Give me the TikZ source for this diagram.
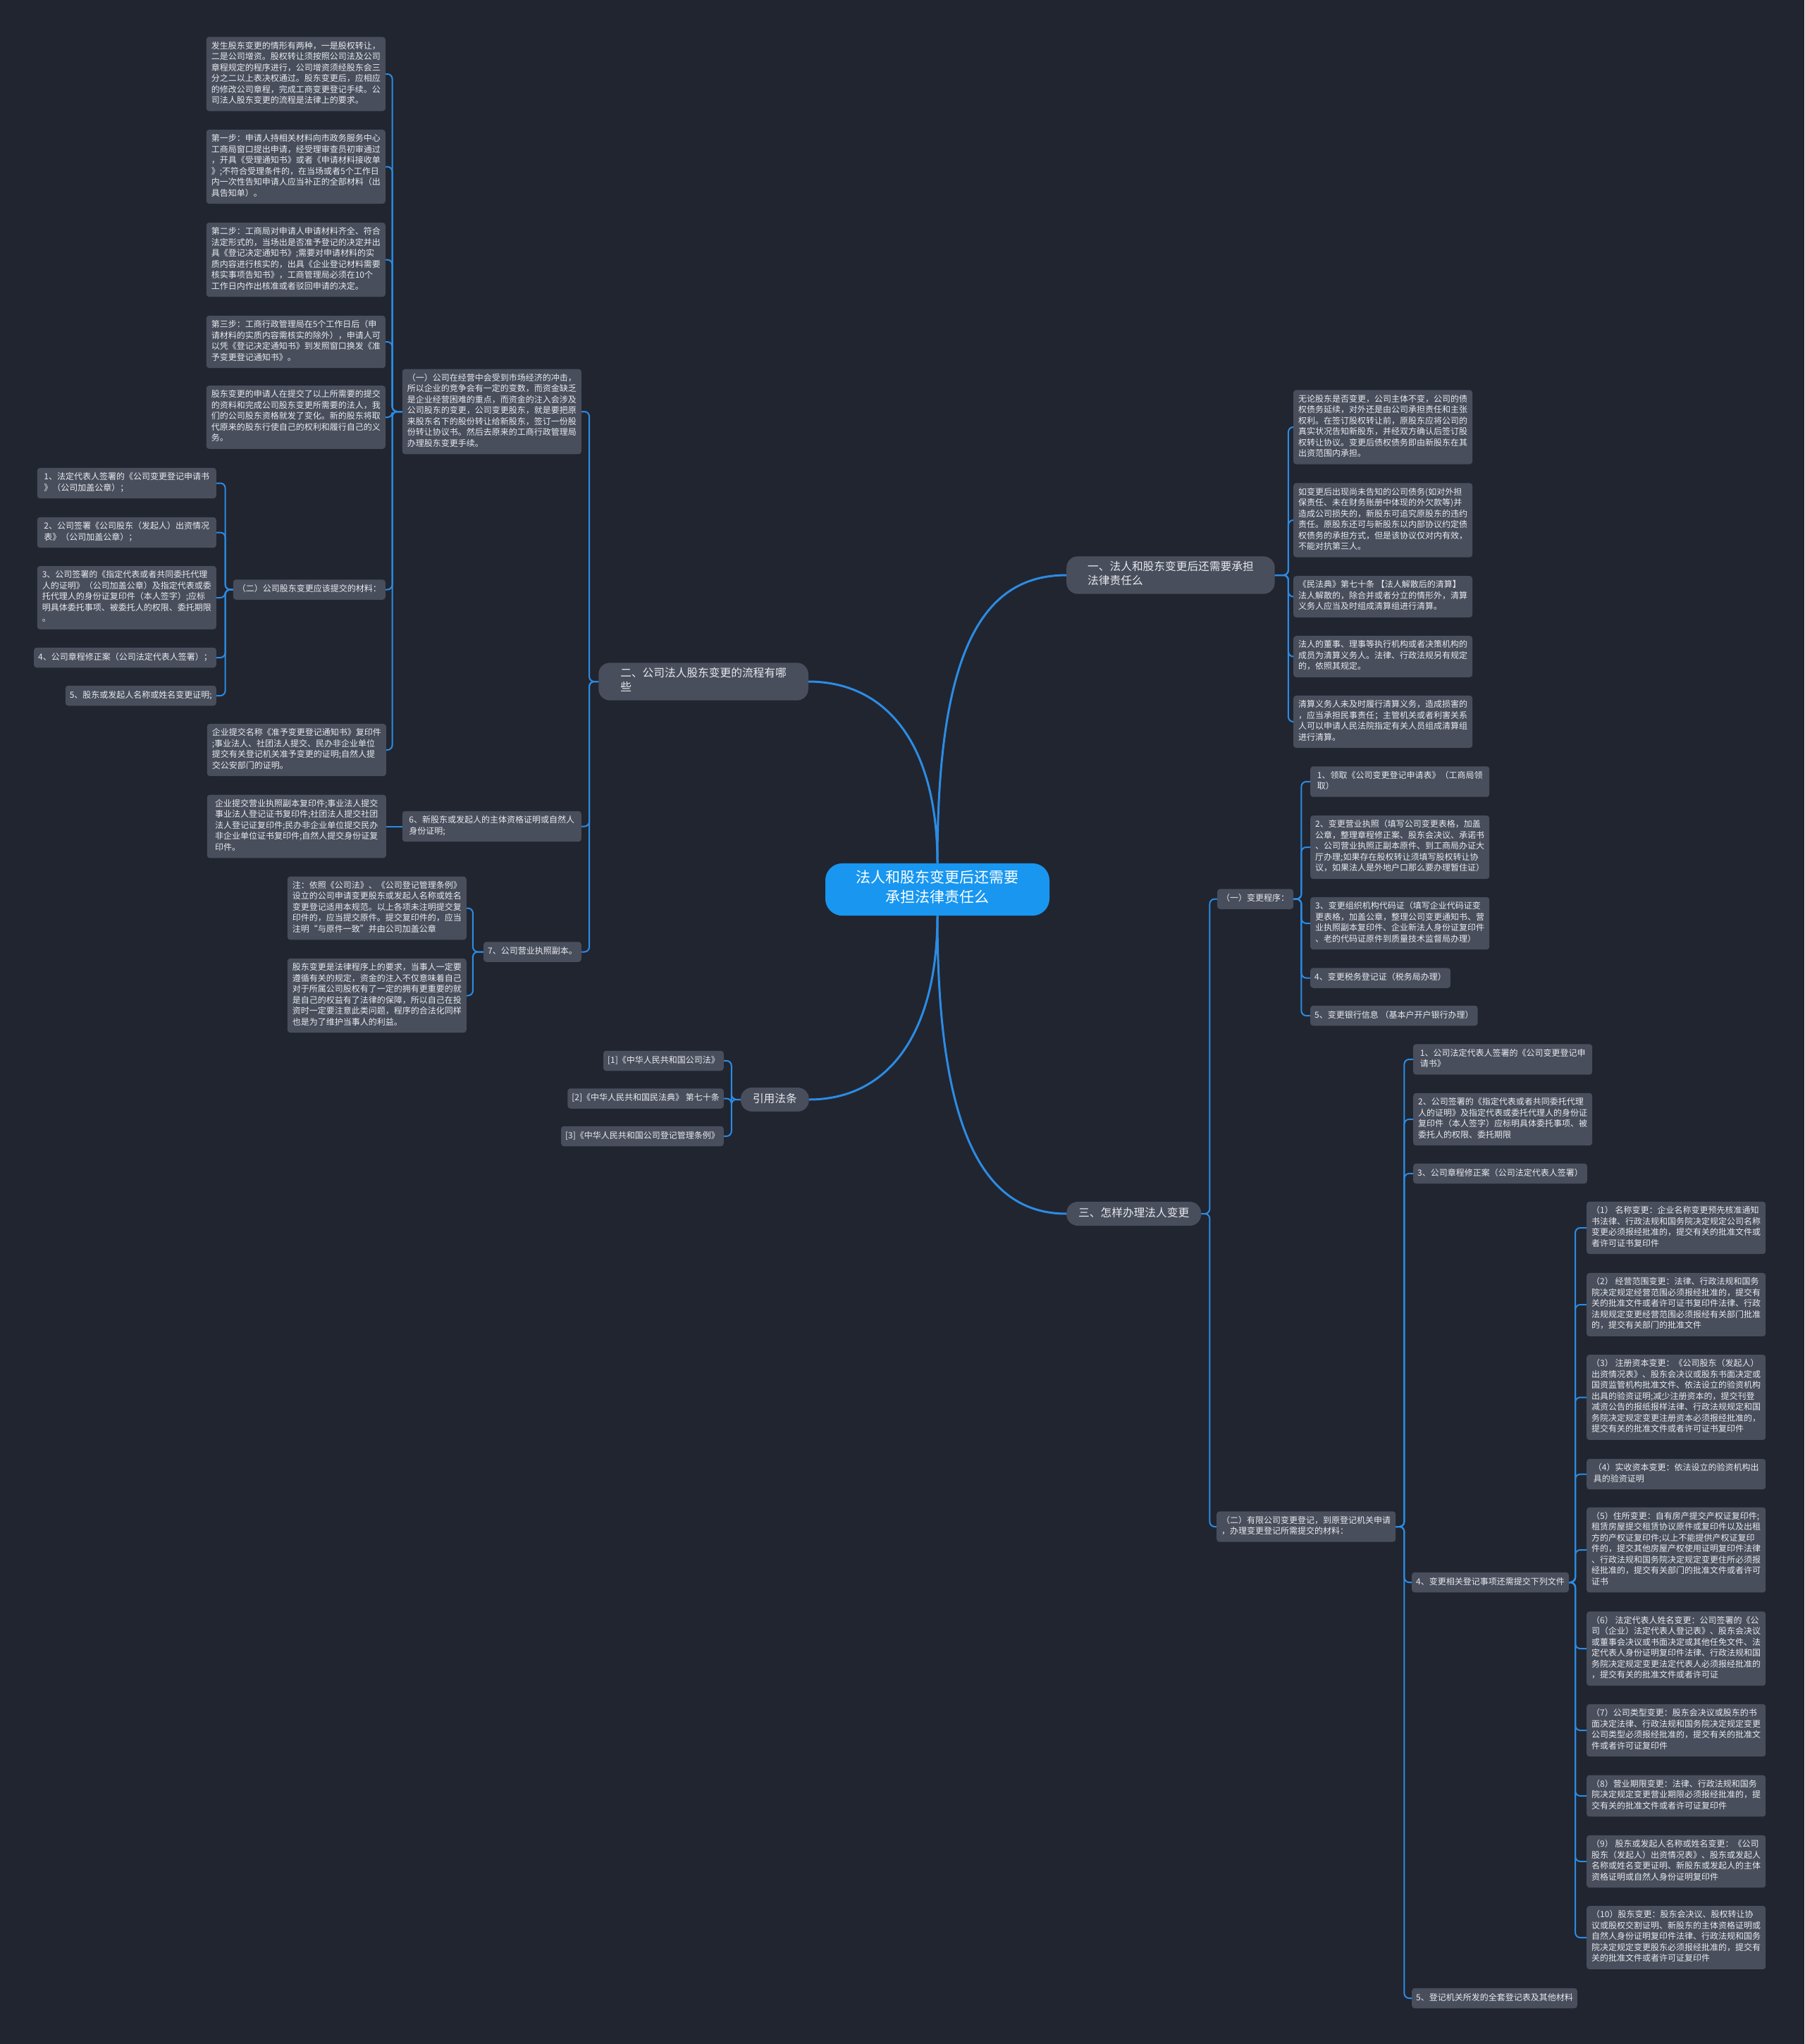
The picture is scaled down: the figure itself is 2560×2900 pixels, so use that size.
\documentclass[tikz,border=0pt]{standalone}
\usepackage{fontspec}
\setmainfont{Noto Sans CJK SC}
\usepackage{xcolor}
\usepackage{tikz}
\definecolor{bgc}{RGB}{33,37,48}
\definecolor{cardc}{RGB}{73,78,92}
\definecolor{linec}{RGB}{43,140,228}
\definecolor{rootc}{RGB}{24,150,240}
\definecolor{txtc}{RGB}{232,234,238}

\begin{document}
\begin{tikzpicture}[
    x=1pt, y=-1pt,
    every node/.style={text=txtc, align=left, execute at begin node=\strut, execute at end node=\strut},
    card/.style={fill=cardc, rounded corners=4pt, inner xsep=6pt, inner ysep=6.5pt, font=\fontsize{12}{15.5}\selectfont},
    wide/.style={card, minimum width=254pt},
    topic/.style={fill=cardc, rounded corners=16pt, inner xsep=17pt, inner ysep=7pt, font=\fontsize{15.7}{20}\selectfont},
    root/.style={fill=rootc, text=white, rounded corners=24pt, minimum width=318pt, inner ysep=10pt, align=center, font=\fontsize{21}{28}\selectfont},
    link/.style={draw=linec, line width=2pt, rounded corners=7pt},
    mainlink/.style={draw=linec, line width=3pt}
]
    \useasboundingbox (0,0) rectangle (2560,2900);
    \fill[bgc] (0,0) rectangle (2560,2900);

    % centre and main topics
    \node[root] (root) at (1330,1262) {法人和股东变更后还需要\\承担法律责任么};
    \node[topic, inner xsep=30pt, anchor=west] (liab) at (1513,816) {一、法人和股东变更后还需要承担\\法律责任么};
    \node[topic, inner xsep=31pt, anchor=east] (flow) at (1147,967) {二、公司法人股东变更的流程有哪\\些};
    \node[topic, anchor=west] (howto) at (1513,1722) {三、怎样办理法人变更};
    \node[topic, anchor=east] (cite) at (1148,1560) {引用法条};

    \draw[mainlink] (root.north) .. controls +(0,-300) and +(-120,0) .. (liab.west);
    \draw[mainlink] (root.north) .. controls +(0,-170) and +(110,0) .. (flow.east);
    \draw[mainlink] (root.south) .. controls +(0,300) and +(-120,0) .. (howto.west);
    \draw[mainlink] (root.south) .. controls +(0,170) and +(110,0) .. (cite.east);

    % 一
    \node[wide, anchor=west] (ra) at (1835,606) {无论股东是否变更，公司主体不变，公司的债\\权债务延续，对外还是由公司承担责任和主张\\权利。在签订股权转让前，原股东应将公司的\\真实状况告知新股东，并经双方确认后签订股\\权转让协议。变更后债权债务即由新股东在其\\出资范围内承担。};
    \node[wide, anchor=west] (rb) at (1835,738) {如变更后出现尚未告知的公司债务(如对外担\\保责任、未在财务账册中体现的外欠款等)并\\造成公司损失的，新股东可追究原股东的违约\\责任。原股东还可与新股东以内部协议约定债\\权债务的承担方式，但是该协议仅对内有效，\\不能对抗第三人。};
    \node[wide, anchor=west] (rc) at (1835,846.5) {《民法典》第七十条 【法人解散后的清算】\\法人解散的，除合并或者分立的情形外，清算\\义务人应当及时组成清算组进行清算。};
    \node[wide, anchor=west] (rd) at (1835,931.5) {法人的董事、理事等执行机构或者决策机构的\\成员为清算义务人。法律、行政法规另有规定\\的，依照其规定。};
    \node[wide, anchor=west] (re) at (1835,1024) {清算义务人未及时履行清算义务，造成损害的\\，应当承担民事责任；主管机关或者利害关系\\人可以申请人民法院指定有关人员组成清算组\\进行清算。};
    \foreach \c in {ra,rb,rc,rd,re}
        \draw[link] (liab.east) -- ++(19,0) |- (\c.west);

    % 三
    \node[card, anchor=west] (proc) at (1727,1275.5) {（一）变更程序：};
    \node[wide, anchor=west] (p1) at (1859,1109) {1、领取《公司变更登记申请表》（工商局领\\取）};
    \node[wide, anchor=west] (p2) at (1859,1202) {2、变更营业执照（填写公司变更表格，加盖\\公章，整理章程修正案、股东会决议、承诺书\\、公司营业执照正副本原件、到工商局办证大\\厅办理;如果存在股权转让须填写股权转让协\\议，如果法人是外地户口那么要办理暂住证）};
    \node[wide, anchor=west] (p3) at (1859,1310) {3、变更组织机构代码证（填写企业代码证变\\更表格，加盖公章，整理公司变更通知书、营\\业执照副本复印件、企业新法人身份证复印件\\、老的代码证原件到质量技术监督局办理）};
    \node[card, anchor=west] (p4) at (1859,1387.5) {4、变更税务登记证（税务局办理）};
    \node[card, anchor=west] (p5) at (1859,1441) {5、变更银行信息 （基本户开户银行办理）};

    \node[wide, anchor=west] (docs) at (1726,2166) {（二）有限公司变更登记，到原登记机关申请\\，办理变更登记所需提交的材料：};
    \node[wide, anchor=west] (q1) at (2005,1503) {1、公司法定代表人签署的《公司变更登记申\\请书》};
    \node[wide, anchor=west] (q2) at (2005,1588) {2、公司签署的《指定代表或者共同委托代理\\人的证明》及指定代表或委托代理人的身份证\\复印件（本人签字）应标明具体委托事项、被\\委托人的权限、委托期限};
    \node[card, anchor=west] (q3) at (2005,1665) {3、公司章程修正案（公司法定代表人签署）};
    \node[card, anchor=west] (q4) at (2003,2245) {4、变更相关登记事项还需提交下列文件};
    \node[card, anchor=west] (q5) at (2003,2835) {5、登记机关所发的全套登记表及其他材料};

    \node[wide, anchor=west] (s1) at (2251,1742) {（1） 名称变更：企业名称变更预先核准通知\\书法律、行政法规和国务院决定规定公司名称\\变更必须报经批准的，提交有关的批准文件或\\者许可证书复印件};
    \node[wide, anchor=west] (s2) at (2251,1851) {（2） 经营范围变更：法律、行政法规和国务\\院决定规定经营范围必须报经批准的，提交有\\关的批准文件或者许可证书复印件法律、行政\\法规规定变更经营范围必须报经有关部门批准\\的，提交有关部门的批准文件};
    \node[wide, anchor=west] (s3) at (2251,1982.5) {（3） 注册资本变更：《公司股东（发起人）\\出资情况表》、股东会决议或股东书面决定或\\国资监管机构批准文件、依法设立的验资机构\\出具的验资证明;减少注册资本的，提交刊登\\减资公告的报纸报样法律、行政法规规定和国\\务院决定规定变更注册资本必须报经批准的，\\提交有关的批准文件或者许可证书复印件};
    \node[wide, anchor=west] (s4) at (2251,2091.5) {（4）实收资本变更：依法设立的验资机构出\\具的验资证明};
    \node[wide, anchor=west] (s5) at (2251,2199) {（5）住所变更：自有房产提交产权证复印件;\\租赁房屋提交租赁协议原件或复印件以及出租\\方的产权证复印件;以上不能提供产权证复印\\件的，提交其他房屋产权使用证明复印件法律\\、行政法规和国务院决定规定变更住所必须报\\经批准的，提交有关部门的批准文件或者许可\\证书};
    \node[wide, anchor=west] (s6) at (2251,2339) {（6） 法定代表人姓名变更：公司签署的《公\\司（企业）法定代表人登记表》、股东会决议\\或董事会决议或书面决定或其他任免文件、法\\定代表人身份证明复印件法律、行政法规和国\\务院决定规定变更法定代表人必须报经批准的\\，提交有关的批准文件或者许可证};
    \node[wide, anchor=west] (s7) at (2251,2455) {（7）公司类型变更：股东会决议或股东的书\\面决定法律、行政法规和国务院决定规定变更\\公司类型必须报经批准的，提交有关的批准文\\件或者许可证复印件};
    \node[wide, anchor=west] (s8) at (2251,2548) {（8）营业期限变更：法律、行政法规和国务\\院决定规定变更营业期限必须报经批准的，提\\交有关的批准文件或者许可证复印件};
    \node[wide, anchor=west] (s9) at (2251,2641) {（9） 股东或发起人名称或姓名变更：《公司\\股东（发起人）出资情况表》、股东或发起人\\名称或姓名变更证明、新股东或发起人的主体\\资格证明或自然人身份证明复印件};
    \node[wide, anchor=west] (s10) at (2251,2749) {（10）股东变更：股东会决议、股权转让协\\议或股权交割证明、新股东的主体资格证明或\\自然人身份证明复印件法律、行政法规和国务\\院决定规定变更股东必须报经批准的，提交有\\关的批准文件或者许可证复印件};

    \foreach \c in {proc,docs}
        \draw[link] (howto.east) -- ++(12,0) |- (\c.west);
    \foreach \c in {p1,p2,p3,p4,p5}
        \draw[link] (proc.east) -- ++(11,0) |- (\c.west);
    \foreach \c in {q1,q2,q3,q4,q5}
        \draw[link] (docs.east) -- ++(12,0) |- (\c.west);
    \foreach \c in {s1,s2,s3,s4,s5,s6,s7,s8,s9,s10}
        \draw[link] (q4.east) -- ++(9,0) |- (\c.west);

    % 二
    \node[wide, anchor=east] (why) at (825,584) {（一）公司在经营中会受到市场经济的冲击，\\所以企业的竞争会有一定的变数，而资金缺乏\\是企业经营困难的重点，而资金的注入会涉及\\公司股东的变更，公司变更股东，就是要把原\\来股东名下的股份转让给新股东，签订一份股\\份转让协议书。然后去原来的工商行政管理局\\办理股东变更手续。};
    \node[wide, anchor=east] (l1) at (547,105) {发生股东变更的情形有两种，一是股权转让，\\二是公司增资。股权转让须按照公司法及公司\\章程规定的程序进行，公司增资须经股东会三\\分之二以上表决权通过。股东变更后，应相应\\的修改公司章程，完成工商变更登记手续。公\\司法人股东变更的流程是法律上的要求。};
    \node[wide, anchor=east] (l2) at (547,236.5) {第一步：申请人持相关材料向市政务服务中心\\工商局窗口提出申请，经受理审查员初审通过\\，开具《受理通知书》或者《申请材料接收单\\》;不符合受理条件的，在当场或者5个工作日\\内一次性告知申请人应当补正的全部材料（出\\具告知单）。};
    \node[wide, anchor=east] (l3) at (547,368.5) {第二步：工商局对申请人申请材料齐全、符合\\法定形式的，当场出是否准予登记的决定并出\\具《登记决定通知书》;需要对申请材料的实\\质内容进行核实的，出具《企业登记材料需要\\核实事项告知书》，工商管理局必须在10个\\工作日内作出核准或者驳回申请的决定。};
    \node[wide, anchor=east] (l4) at (547,485) {第三步：工商行政管理局在5个工作日后（申\\请材料的实质内容需核实的除外），申请人可\\以凭《登记决定通知书》到发照窗口换发《准\\予变更登记通知书》。};
    \node[wide, anchor=east] (l5) at (547,592) {股东变更的申请人在提交了以上所需要的提交\\的资料和完成公司股东变更所需要的法人，我\\们的公司股东资格就发了变化。新的股东将取\\代原来的股东行使自己的权利和履行自己的义\\务。};
    \node[card, anchor=east] (need) at (547,836.5) {（二）公司股东变更应该提交的材料：};
    \node[wide, anchor=east] (l6) at (548,1064) {企业提交名称《准予变更登记通知书》复印件\\;事业法人、社团法人提交、民办非企业单位\\提交有关登记机关准予变更的证明;自然人提\\交公安部门的证明。};

    \node[wide, anchor=east] (i1) at (307,685.5) {1、法定代表人签署的《公司变更登记申请书\\》（公司加盖公章）；};
    \node[wide, anchor=east] (i2) at (307,755.5) {2、公司签署《公司股东（发起人）出资情况\\表》（公司加盖公章）；};
    \node[wide, anchor=east] (i3) at (307,848) {3、公司签署的《指定代表或者共同委托代理\\人的证明》（公司加盖公章）及指定代表或委\\托代理人的身份证复印件（本人签字）;应标\\明具体委托事项、被委托人的权限、委托期限\\。};
    \node[card, anchor=east] (i4) at (307,933) {4、公司章程修正案（公司法定代表人签署）；};
    \node[card, anchor=east] (i5) at (307,987) {5、股东或发起人名称或姓名变更证明;};

    \node[wide, anchor=east] (newsh) at (825,1172.5) {6、新股东或发起人的主体资格证明或自然人\\身份证明;};
    \node[wide, anchor=east] (l7) at (548,1172.5) {企业提交营业执照副本复印件;事业法人提交\\事业法人登记证书复印件;社团法人提交社团\\法人登记证复印件;民办非企业单位提交民办\\非企业单位证书复印件;自然人提交身份证复\\印件。};

    \node[card, anchor=east] (lic) at (825,1350.5) {7、公司营业执照副本。};
    \node[wide, anchor=east] (n1) at (662,1288.5) {注：依照《公司法》、《公司登记管理条例》\\设立的公司申请变更股东或发起人名称或姓名\\变更登记适用本规范。以上各项未注明提交复\\印件的，应当提交原件。提交复印件的，应当\\注明“与原件一致”并由公司加盖公章};
    \node[wide, anchor=east] (n2) at (662,1412.5) {股东变更是法律程序上的要求，当事人一定要\\遵循有关的规定，资金的注入不仅意味着自己\\对于所属公司股权有了一定的拥有更重要的就\\是自己的权益有了法律的保障，所以自己在投\\资时一定要注意此类问题，程序的合法化同样\\也是为了维护当事人的利益。};

    \foreach \c in {why,newsh,lic}
        \draw[link] (flow.west) -- ++(-13,0) |- (\c.east);
    \foreach \c in {l1,l2,l3,l4,l5,need,l6}
        \draw[link] (why.west) -- ++(-14,0) |- (\c.east);
    \foreach \c in {i1,i2,i3,i4,i5}
        \draw[link] (need.west) -- ++(-11,0) |- (\c.east);
    \draw[link] (newsh.west) -- (l7.east);
    \foreach \c in {n1,n2}
        \draw[link] (lic.west) -- ++(-15,0) |- (\c.east);

    % 引用法条
    \node[card, anchor=east] (law1) at (1027,1505) {[1]《中华人民共和国公司法》};
    \node[card, anchor=east] (law2) at (1027,1558.5) {[2]《中华人民共和国民法典》 第七十条};
    \node[card, anchor=east] (law3) at (1027,1612) {[3]《中华人民共和国公司登记管理条例》};
    \foreach \c in {law1,law2,law3}
        \draw[link] (cite.west) -- ++(-13,0) |- (\c.east);
\end{tikzpicture}
\end{document}
